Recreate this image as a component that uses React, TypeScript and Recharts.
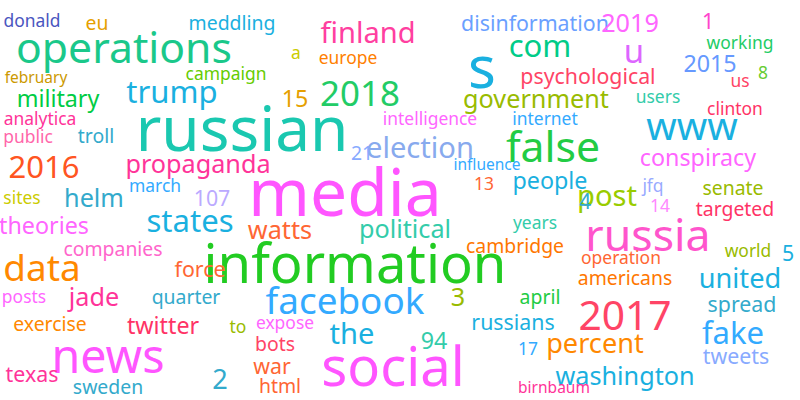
import { ScatterChart, Scatter, XAxis, YAxis } from "recharts"

// word, x, y (centre in picture pixels), size, colour
const words = ["donald","eu","meddling","finland","disinformation","2019","1","operations","s","u","com","working","a","europe","campaign","psychological","2015","8","us","february","15","2018","trump","military","government","users","clinton","russian","analytica","troll","public","intelligence","internet","www","false","election","21","2016","propaganda","conspiracy","media","influence","13","people","march","helm","107","post","jfq","senate","sites","4","14","states","theories","watts","political","years","targeted","russia","information","cambridge","companies","data","force","world","5","operation","americans","united","posts","jade","quarter","facebook","3","april","spread","2017","exercise","twitter","to","expose","russians","the","fake","percent","bots","news","social","94","17","tweets","war","washington","texas","2","sweden","html","birnbaum"]
const xs = [32,97,232,368,535,630,708,124,482,634,540,740,296,348,226,588,710,763,740,36,295,360,172,58,536,658,735,242,40,96,28,430,545,692,553,420,362,44,198,698,345,487,484,550,155,94,212,607,653,733,22,585,660,190,44,280,405,535,735,648,355,515,113,42,200,748,788,621,625,740,24,94,186,345,458,540,742,625,50,163,238,285,513,352,733,595,275,108,393,434,528,736,272,625,32,220,108,280,554]
const ys = [20,22,22,32,22,22,20,46,65,50,45,42,52,57,73,75,63,72,80,77,98,92,91,98,98,96,108,127,118,135,136,118,118,125,145,147,152,166,163,157,190,164,183,180,185,197,197,195,185,187,197,200,205,220,225,229,228,222,208,233,262,245,248,267,268,250,252,257,277,277,296,296,296,300,296,296,303,314,323,325,326,322,321,333,332,342,343,355,365,340,348,355,365,375,373,378,386,385,387]
const sizes = [18,20,20,30,22,26,22,44,60,34,32,18,18,18,18,22,24,18,18,16,24,36,32,24,26,18,18,64,18,20,18,18,18,40,44,30,20,32,26,24,68,16,18,24,18,26,22,30,18,20,18,22,18,32,24,26,26,18,20,46,56,20,20,38,22,18,22,18,20,28,18,26,20,38,26,20,22,42,20,24,18,18,22,30,32,28,20,48,56,24,18,22,22,26,22,28,20,20,16]
const colors = ["#4a56c0","#e6a000","#1ab0e0","#ff3fa0","#6aa0ff","#ff66ff","#ff44cc","#1ac88a","#1ab0e0","#dd66ff","#00cc88","#22cc66","#cccc00","#ff7f00","#66cc00","#ff4466","#6699ff","#66cc33","#ff4466","#cc9900","#e6a000","#22cc66","#1ab0e0","#00cc44","#99bb00","#33ccaa","#ff3366","#1ac8b0","#ff3399","#33aacc","#ff66aa","#ff66ff","#33aaff","#1ab0e0","#22cc44","#88aaee","#88aaff","#ff5522","#ff3399","#ff66ff","#ff55ff","#33aaff","#ff6633","#1ab0e0","#33aaff","#33aacc","#bbaaff","#99cc00","#99aaff","#99bb00","#cccc00","#33aacc","#ff88ff","#1ab0e0","#ff66ff","#ff6633","#33ccaa","#33ccaa","#ff3366","#ff55cc","#22cc22","#ff7700","#ff66cc","#ff8800","#ff6633","#99bb00","#1ab0e0","#ff6633","#ff7700","#1ab0e0","#ff66ff","#ff3399","#33aacc","#33aaff","#99bb00","#22cc44","#33aacc","#ff4466","#ff8800","#ff3366","#99bb00","#ff66ff","#1ab0e0","#1ab0e0","#33aaff","#ff8800","#ff4466","#ff55ff","#ff55ff","#33ccaa","#33aaff","#88aaff","#ff6633","#1ab0e0","#ff3399","#33aacc","#33aacc","#ff6633","#ff3399"]

const data = words.map((w, i) => ({ word: w, x: xs[i], y: ys[i], size: sizes[i], color: colors[i] }))

const Word = (props: any) => {
  const { cx, cy, payload } = props
  return (
    <text x={cx} y={cy} textAnchor="middle" dominantBaseline="central"
      fontSize={payload.size * 0.97} fill={payload.color} fontFamily="Noto Sans">
      {payload.word}
    </text>
  )
}

export default function App() {
  return (
    <div style={{ position: "absolute", left: 0, top: 0, background: "#fff" }}>
      <ScatterChart width={800} height={400} margin={{ top: 0, right: 0, bottom: 0, left: 0 }}>
        <XAxis type="number" dataKey="x" domain={[0, 800]} hide />
        <YAxis type="number" dataKey="y" domain={[0, 400]} reversed hide />
        <Scatter data={data} shape={Word} isAnimationActive={false} />
      </ScatterChart>
    </div>
  )
}
